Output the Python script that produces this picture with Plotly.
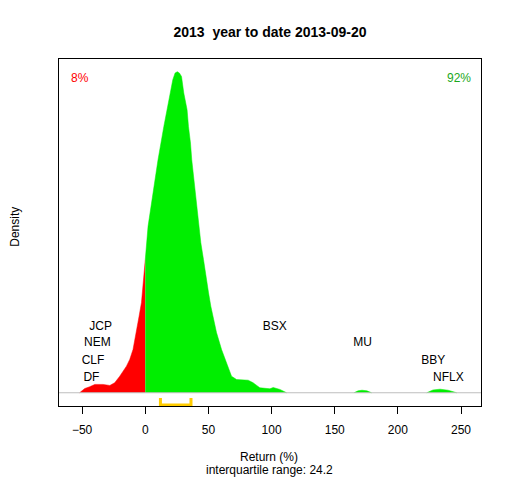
import plotly.graph_objects as go

# Density of year-to-date returns (%)
neg_x = [-52, -47.9, -44.0, -40.0, -33.4, -28.1, -24.2, -20.2, -14.9, -12.3, -9.7, -7.0, -4.9, -3.0, -1.2, 0]
neg_d = [0, 0.00033, 0.00047, 0.00065, 0.00065, 0.00057, 0.00078, 0.00129, 0.00207, 0.00259, 0.00337,
         0.00469, 0.00596, 0.00703, 0.00934, 0.01037]

pos_x = [0, 2.2, 6.2, 10.1, 14.7, 19.4, 21.8, 23.6, 25.4, 27.0, 28.7, 30.5, 33.1, 34.2, 35.8, 36.8, 38.2,
         39.8, 41.0, 42.6, 44.0, 46.1, 47.9, 50.1, 51.9, 53.7, 56.4, 60.4, 64.3, 68.3, 72.3, 81.5,
         85.4, 90.7, 98.7, 101.3, 106.6, 111.9]
pos_d = [0.01037, 0.01296, 0.01559, 0.01815, 0.02074, 0.02334, 0.02438, 0.02490, 0.02500, 0.02490,
         0.02463, 0.02334, 0.02204, 0.02074, 0.01945, 0.01815, 0.01685, 0.01556, 0.01426, 0.01296,
         0.01167, 0.01037, 0.00907, 0.00778, 0.00674, 0.00596, 0.00469, 0.00337, 0.00233, 0.00129,
         0.00103, 0.00098, 0.00078, 0.00039, 0.00031, 0.00041, 0.00026, 0]

mu_x = [165.2, 168.5, 171.6, 175.5, 179.2]
mu_d = [0, 0.00015, 0.0002, 0.00015, 0]
hi_x = [222.8, 227.8, 233.4, 239.7, 246.6]
hi_d = [0, 0.00022, 0.00028, 0.0002, 0]

# Labelled stocks
names = ["JCP", "NEM", "CLF", "DF", "BSX", "MU", "BBY", "NFLX"]
name_x = [-35.3, -37.9, -41.4, -42.6, 102.6, 172.1, 228.0, 240.0]
name_y = [0.00514, 0.00384, 0.00246, 0.00117, 0.00514, 0.00384, 0.00246, 0.00117]

q1, q3 = 12.0, 36.2
iqr_text = "interquartile range: 24.2"
pct_neg, pct_pos = "8%", "92%"
tick_vals = [-50, 0, 50, 100, 150, 200, 250]

GREEN = "#00EE00"
RED = "#FF0000"
FONT = "Liberation Sans, Arial, sans-serif"

# page body has an 8px margin: figure is 504x472 so the plot lands at the reference pixels
W, H = 504, 472
PW, PH = 422, 347.5

fig = go.Figure()
fig.add_trace(go.Scatter(x=neg_x, y=neg_d, fill="tozeroy", mode="lines",
                         line=dict(color=RED, width=0.5), fillcolor=RED, hoverinfo="skip"))
fig.add_trace(go.Scatter(x=pos_x, y=pos_d, fill="tozeroy", mode="lines",
                         line=dict(color=GREEN, width=0.5), fillcolor=GREEN, hoverinfo="skip"))
for xs, ds in [(mu_x, mu_d), (hi_x, hi_d)]:
    fig.add_trace(go.Scatter(x=xs, y=ds, fill="tozeroy", mode="lines",
                             line=dict(color=GREEN, width=0.5), fillcolor=GREEN, hoverinfo="skip"))

# baseline
fig.add_shape(type="line", xref="paper", yref="y", x0=0, x1=1, y0=0, y1=0,
              line=dict(color="#BEBEBE", width=1.2))

# IQR bracket
fig.add_trace(go.Scatter(x=[q1, q1, q3, q3], y=[-0.0004, -0.00095, -0.00095, -0.0004],
                         mode="lines", line=dict(color="#FFCC00", width=3), cliponaxis=False,
                         hoverinfo="skip"))

fig.add_trace(go.Scatter(x=name_x, y=name_y, mode="text", text=names,
                         textfont=dict(family=FONT, size=12, color="black"), hoverinfo="skip"))


def note(px, py, text, color="black", angle=0):
    fig.add_annotation(xref="paper", yref="paper", x=(px - 59) / PW, y=(406.5 - py) / PH,
                       xanchor="center", yanchor="middle", textangle=angle,
                       text=text, showarrow=False, font=dict(family=FONT, size=12, color=color))


note(80, 78.3, pct_neg, RED)
note(459.3, 78.3, pct_pos, "#1CA81C")
note(269, 457.7, "Return (%)")
note(269, 470.7, iqr_text)
note(15, 227, "Density", angle=-90)

fig.update_layout(
    width=W, height=H, autosize=False,
    margin=dict(l=51, r=31, t=51, b=73.5),
    paper_bgcolor="white", plot_bgcolor="white", showlegend=False,
    title=dict(text="<b>2013  year to date 2013-09-20</b>", x=(270 - 8) / W, xanchor="center",
               y=1 - (31.7 - 8) / H, yanchor="middle", font=dict(family=FONT, size=14, color="black")),
    xaxis=dict(range=[-68.3, 265.8], tickvals=tick_vals, ticks="outside", ticklen=7,
               tickcolor="black", showline=True, linecolor="black", linewidth=1, mirror=True,
               showgrid=False, zeroline=False, ticklabelstandoff=6,
               tickfont=dict(family=FONT, size=12, color="black")),
    yaxis=dict(range=[-0.00103, 0.02599], showticklabels=False, ticks="", showline=True,
               linecolor="black", linewidth=1, mirror=True, showgrid=False, zeroline=False),
)

fig.write_html("out.html")
